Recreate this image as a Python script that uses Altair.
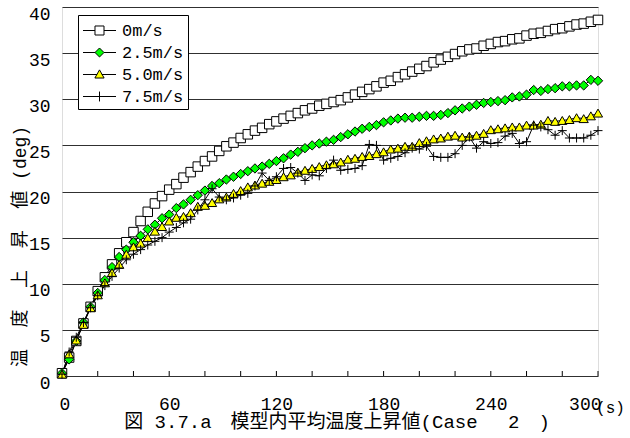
import altair as alt
import pandas as pd

# ---------------- data ----------------
time_s = list(range(0, 301, 4))

v_0 = [0.3, 2.0, 3.8, 5.7, 7.5, 9.2, 10.7, 12.1, 13.3, 14.5, 15.6, 16.8, 17.8, 18.7, 19.5, 20.2,
       20.8, 21.5, 22.1, 22.7, 23.3, 23.8, 24.4, 24.9, 25.3, 25.8, 26.2, 26.6, 26.9, 27.3, 27.6,
       27.9, 28.2, 28.5, 28.8, 29.0, 29.3, 29.5, 29.7, 29.9, 30.2, 30.5, 30.8, 31.1, 31.4, 31.8,
       32.0, 32.4, 32.7, 33.0, 33.3, 33.6, 34.0, 34.3, 34.6, 34.9, 35.2, 35.4, 35.5, 35.8, 36.0,
       36.2, 36.3, 36.5, 36.6, 36.9, 37.1, 37.2, 37.4, 37.6, 37.7, 37.9, 38.1, 38.2, 38.4, 38.6]

v_25 = [0.3, 1.8, 3.8, 5.8, 7.5, 9.0, 10.4, 11.8, 12.9, 13.7, 14.5, 15.2, 15.9, 16.4, 17.1, 17.5,
        18.2, 18.6, 19.1, 19.6, 20.1, 20.6, 20.9, 21.3, 21.6, 21.9, 22.2, 22.5, 22.7, 23.0, 23.3,
        23.6, 24.0, 24.3, 24.7, 25.0, 25.2, 25.4, 25.6, 25.9, 26.2, 26.5, 26.8, 27.0, 27.2, 27.5,
        27.7, 27.9, 28.0, 28.0, 28.1, 28.2, 28.2, 28.3, 28.5, 28.8, 29.0, 29.2, 29.4, 29.6, 29.7,
        29.8, 29.9, 30.2, 30.3, 30.5, 31.0, 30.9, 31.1, 31.2, 31.4, 31.4, 31.5, 31.5, 32.1, 32.0]

v_50 = [0.2, 2.4, 3.9, 5.6, 7.4, 8.8, 10.1, 11.2, 12.1, 13.2, 14.0, 14.4, 15.0, 15.7, 16.2, 16.8,
        17.2, 17.3, 17.7, 18.4, 18.5, 18.8, 19.2, 19.4, 19.8, 20.1, 20.5, 20.7, 20.9, 21.1, 21.3,
        21.6, 21.8, 22.1, 22.3, 22.5, 22.7, 22.9, 23.0, 23.2, 23.5, 23.6, 23.8, 23.9, 24.1, 24.3,
        24.6, 24.7, 24.9, 24.9, 25.3, 25.5, 25.7, 25.8, 26.0, 26.1, 25.9, 26.0, 26.1, 26.3, 26.7,
        26.8, 26.9, 27.0, 27.0, 27.2, 27.2, 27.3, 27.7, 27.6, 27.7, 27.8, 28.0, 27.9, 28.2, 28.5]

v_75 = [0.2, 2.6, 4.2, 5.8, 7.4, 8.7, 9.8, 10.8, 11.7, 12.6, 13.2, 13.7, 14.2, 14.6, 15.0, 15.6,
        16.1, 16.6, 17.0, 18.0, 19.1, 20.3, 19.4, 19.1, 19.3, 19.6, 19.8, 20.6, 22.0, 21.2, 21.6,
        22.5, 22.6, 22.0, 21.2, 21.8, 21.7, 22.5, 23.4, 22.3, 22.4, 22.5, 22.8, 25.1, 25.0, 23.4,
        23.6, 23.8, 24.2, 24.7, 24.6, 24.9, 23.8, 23.7, 23.7, 24.1, 25.0, 25.9, 24.7, 25.4, 25.2,
        25.3, 26.0, 26.3, 25.2, 25.4, 27.2, 27.0, 26.7, 26.1, 26.6, 25.8, 25.8, 25.8, 26.1, 26.6]

series_names = ["0m/s", "2.5m/s", "5.0m/s", "7.5m/s"]
series_values = [v_0, v_25, v_50, v_75]

x_label_values = [0, 60, 120, 180, 240, 300]
x_minor_ticks = [0, 20, 40, 60, 80, 100, 120, 140, 160, 180, 200, 220, 240, 260, 280, 300]
y_tick_values = [0, 5, 10, 15, 20, 25, 30, 35, 40]

caption = "図 3.7.a\u3000模型内平均温度上昇値(Case\u3000 2\u3000)"
NB = "\u00a0"
y_title = f"温{NB}{NB}度{NB}{NB}上{NB}{NB}昇{NB}{NB}値{NB}(deg)"

# ---------------- styles ----------------
FONT = "Liberation Mono, Noto Sans CJK JP"
fill_colors = ["#ffffff", "#00ff00", "#ffff00", "#000000"]
marker_shapes = ["square", "diamond", "triangle-up", "M-1,0H1M0,-1V1"]
marker_sizes = [90, 81, 90, 100]
legend_shapes = [
    "M-1.5,0H-0.41M0.41,0H1.5M-0.41,-0.41H0.41V0.41H-0.41Z",
    "M-1.5,0H-0.41M0.41,0H1.5M0,-0.41L0.41,0L0,0.41L-0.41,0Z",
    "M-1.5,0H-0.22M0.22,0H1.5M0,-0.42L0.42,0.32L-0.42,0.32Z",
    "M-1.5,0H1.5M0,-0.45V0.45",
]

rows = []
for name, vals in zip(series_names, series_values):
    for t, v in zip(time_s, vals):
        rows.append({"time": t, "value": v, "series": name})
df = pd.DataFrame(rows)
ticks_df = pd.DataFrame({"time": x_minor_ticks})
legend_df = pd.DataFrame({"legend_series": series_names})

x_enc = alt.X(
    "time:Q",
    scale=alt.Scale(domain=[0, 300], nice=False, zero=False),
    axis=alt.Axis(
        values=x_label_values, ticks=False, domain=False, grid=False,
        labelFont=FONT, labelFontSize=18, labelColor="black", labelPadding=19,
        labelFlush=True, labelFlushOffset=3,
        title="(s)", titleFont=FONT, titleFontSize=16, titleFontWeight="normal",
        titleColor="black", titleX=548, titleY=23, titleAlign="center", titleBaseline="top",
    ),
)
y_enc = alt.Y(
    "value:Q",
    scale=alt.Scale(domain=[0, 40], nice=False),
    axis=alt.Axis(
        values=y_tick_values, ticks=False, domain=False, grid=True,
        gridColor="#303030", gridWidth=1, gridOpacity=1,
        labelFont=FONT, labelFontSize=18, labelColor="black", labelPadding=12, labelOffset=7,
        title=y_title, titleFont=FONT, titleFontSize=18, titleFontWeight="normal",
        titleColor="black", titleX=-42, titleY=239, titleAngle=-90,
        titleAlign="center", titleBaseline="middle",
    ),
)

lines = alt.Chart(df).mark_line(color="black", strokeWidth=1).encode(
    x=x_enc, y=y_enc, detail="series:N"
)

points = alt.Chart(df).mark_point(filled=True, stroke="black", strokeWidth=1, opacity=1).encode(
    x=x_enc, y=y_enc,
    shape=alt.Shape("series:N", scale=alt.Scale(domain=series_names, range=marker_shapes), legend=None),
    fill=alt.Fill("series:N", scale=alt.Scale(domain=series_names, range=fill_colors), legend=None),
    size=alt.Size("series:N", scale=alt.Scale(domain=series_names, range=marker_sizes), legend=None),
)

minor_ticks = alt.Chart(ticks_df).mark_rule(color="black", strokeWidth=1).encode(
    x=alt.X("time:Q"), y=alt.value(369), y2=alt.value(364)
)


def legend_params():
    return alt.Legend(
        title=None, orient="none", legendX=16, legendY=8,
        fillColor="white", strokeColor="black", padding=4,
        symbolSize=484, symbolOpacity=1, symbolStrokeColor="black", symbolStrokeWidth=1,
        symbolOffset=6, labelOffset=11, labelAlign="left", rowPadding=2,
        labelFont=FONT, labelFontSize=17, labelColor="black",
    )


legend_layer = alt.Chart(legend_df).mark_point(
    filled=True, strokeWidth=1, opacity=0
).encode(
    shape=alt.Shape("legend_series:N", scale=alt.Scale(domain=series_names, range=legend_shapes),
                    legend=legend_params()),
    fill=alt.Fill("legend_series:N", scale=alt.Scale(domain=series_names, range=fill_colors),
                  legend=legend_params()),
    stroke=alt.Stroke("legend_series:N",
                      scale=alt.Scale(domain=series_names, range=["black", "black", "black", "black"]),
                      legend=legend_params()),
)

chart = (
    alt.layer(minor_ticks, lines, points, legend_layer)
    .resolve_scale(shape="independent", fill="independent", stroke="independent")
    .properties(
        width=536,
        height=369,
        autosize=alt.AutoSizeParams(type="none"),
        padding={"left": 62, "top": 7, "right": 32, "bottom": 62},
        title=alt.TitleParams(
            text=caption, orient="bottom", anchor="middle", font=FONT, fontSize=19,
            fontWeight="normal", color="black", offset=0, dx=7, dy=-2,
        ),
    )
    .configure_view(stroke="black", strokeWidth=1)
    .configure(background="white")
)

chart.save("out.html", embed_options={"renderer": "svg", "actions": False})
